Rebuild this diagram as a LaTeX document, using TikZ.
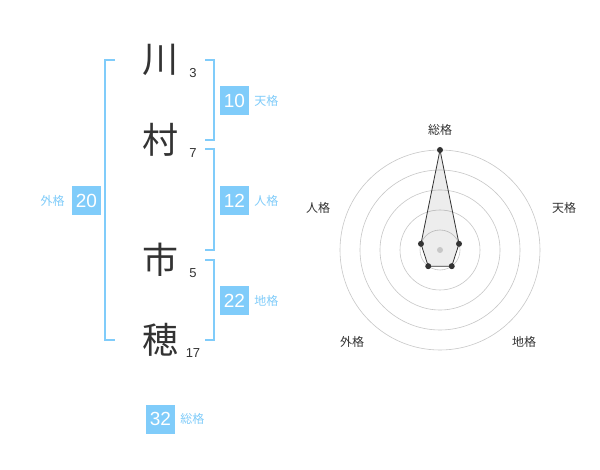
\documentclass[tikz,border=0pt]{standalone}
\usepackage{fontspec}
\setmainfont{Liberation Sans}
\newfontfamily\jpfont{Noto Sans CJK JP}
\usetikzlibrary{positioning}
\definecolor{kakublue}{RGB}{128,204,250}
\definecolor{inkgray}{RGB}{51,51,51}

\begin{document}
\begin{tikzpicture}[x=1pt,y=-1pt]
    % --- STILI ---
    \tikzset{
        kanji/.style={font=\jpfont\fontsize{36}{36}\selectfont, text=inkgray, inner sep=0pt},
        strokes/.style={font=\fontsize{13}{13}\selectfont, text=inkgray, inner sep=0pt},
        kakubox/.style={fill=kakublue, text=white, minimum size=29pt, inner sep=0pt, font=\fontsize{19}{19}\selectfont},
        kakulabel/.style={font=\jpfont\fontsize{12}{12}\selectfont, text=kakublue, inner sep=0pt},
        bracket/.style={draw=kakublue, line width=1.6pt},
        axislabel/.style={font=\jpfont\fontsize{12}{12}\selectfont, text=inkgray, inner sep=0pt},
        ring/.style={draw=black!22, line width=0.6pt},
        dot/.style={circle, fill=inkgray, inner sep=0pt, minimum size=6pt}
    }
    \useasboundingbox[fill=white] (0,0) rectangle (600,470);

    % ===================================================
    % 1. NOME E TRATTI
    % ===================================================
    \foreach \ch/\n/\y/\name in {川/3/60/k1, 村/7/140/k2, 市/5/260/k3, 穂/17/340/k4} {
        \node[kanji] (\name) at (160,\y) {\ch};
        \node[strokes] (\name n) at (193,\y+13) {\n};
    }

    % ===================================================
    % 2. PARENTESI
    % ===================================================
    \draw[bracket] (115,60) -- (105,60) -- (105,340) -- (115,340);
    \draw[bracket] (205,60) -- (214,60) -- (214,140) -- (205,140);
    \draw[bracket] (205,149) -- (214,149) -- (214,250) -- (205,250);
    \draw[bracket] (205,260) -- (214,260) -- (214,340) -- (205,340);

    % ===================================================
    % 3. RISULTATI
    % ===================================================
    \node[kakubox] (ten) at (234.5,100.5) {10};
    \node[kakulabel, right=5pt of ten] (tenl) {天格};
    \node[kakubox] (jin) at (234.5,200.5) {12};
    \node[kakulabel, right=5pt of jin] (jinl) {人格};
    \node[kakubox] (chi) at (234.5,300.5) {22};
    \node[kakulabel, right=5pt of chi] (chil) {地格};
    \node[kakubox] (gai) at (86.5,200.5) {20};
    \node[kakulabel, left=7pt of gai] (gail) {外格};
    \node[kakubox] (sou) at (160.5,419) {32};
    \node[kakulabel, right=5pt of sou] (soul) {総格};

    % ===================================================
    % 4. RADAR
    % ===================================================
    \begin{scope}[shift={(440,250)}, yscale=-1]
        \foreach \r in {20,40,...,100} {
            \draw[ring] (0,0) circle (\r);
        }

        \filldraw[fill=black, fill opacity=0.07, draw=inkgray, line width=0.8pt]
            (90:100) -- (18:20) -- (-54:20) -- (-126:20) -- (162:20) -- cycle;
        \fill[black!22] (0,0) circle (3);
        \foreach \a/\r/\name in {90/100/p1, 18/20/p2, -54/20/p3, -126/20/p4, 162/20/p5} {
            \node[dot] (\name) at (\a:\r) {};
        }
    \end{scope}

    \node[axislabel] (a1) at (440,130) {総格};
    \node[axislabel] (a2) at (564,208) {天格};
    \node[axislabel] (a3) at (524,342) {地格};
    \node[axislabel] (a4) at (352,342) {外格};
    \node[axislabel] (a5) at (318,208) {人格};

\end{tikzpicture}
\end{document}
